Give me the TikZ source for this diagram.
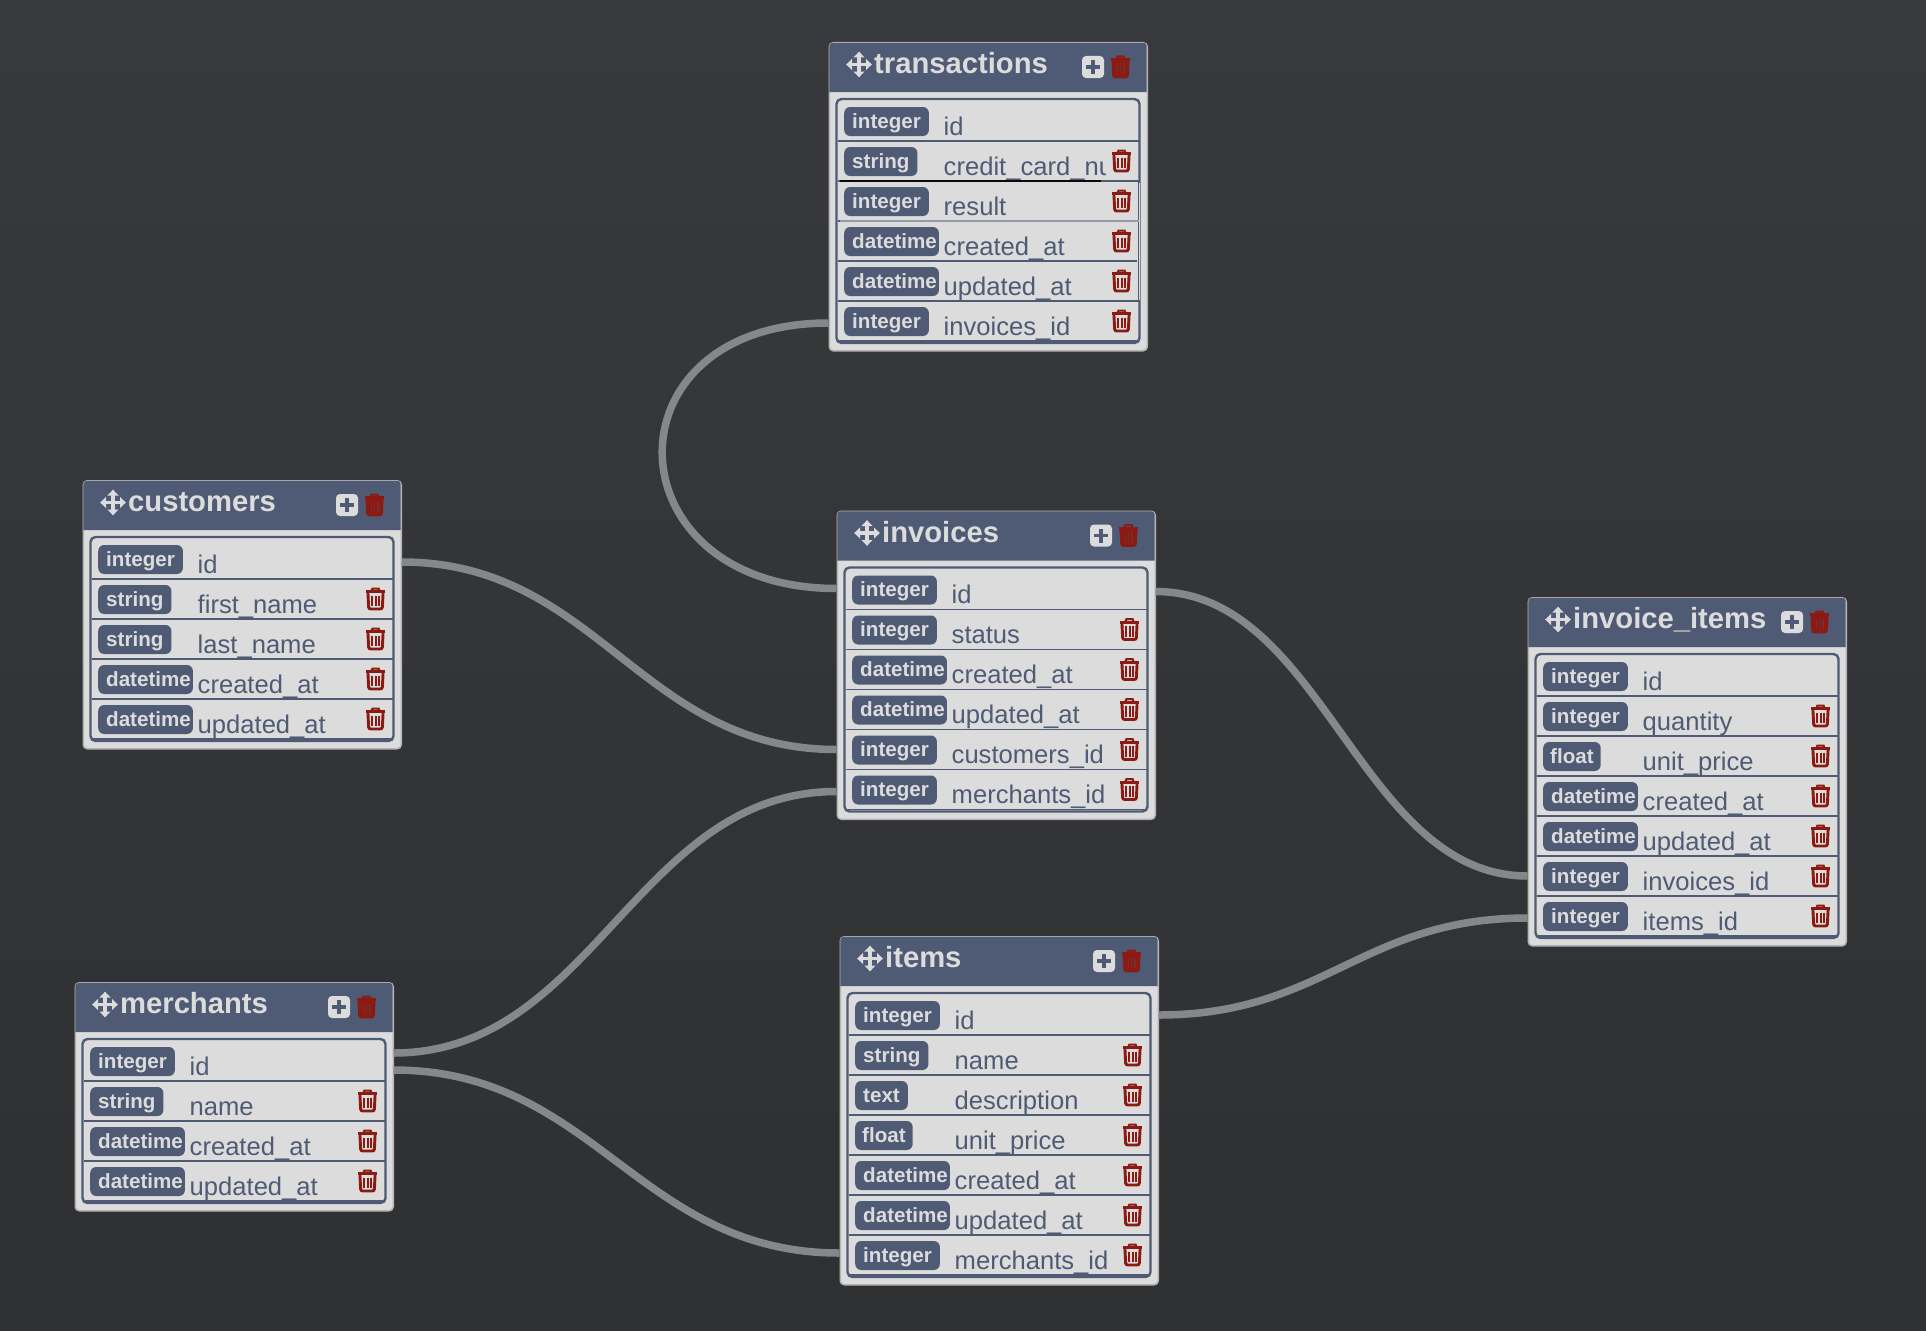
\documentclass[tikz,border=0pt]{standalone}
\usepackage{fontspec}
\setmainfont{Liberation Sans}

\definecolor{bgtop}{HTML}{38393C}
\definecolor{bgbot}{HTML}{2F3032}
\definecolor{slate}{HTML}{4F5B75}
\definecolor{paper}{HTML}{DCDCDC}
\definecolor{edgegray}{HTML}{B4B4B4}
\definecolor{wiregray}{HTML}{85888A}
\definecolor{trashred}{HTML}{8A1A12}

\tikzset{
  tablebox/.style={draw=edgegray,fill=paper,line width=1.5pt,rounded corners=4pt,anchor=north west,inner sep=0pt,minimum width=318},
  rowbox/.style={inner sep=0pt,outer sep=0pt,minimum width=319,minimum height=40},
  rowline/.style={draw=slate,line width=1.6pt},
  innerbox/.style={draw=slate,line width=2.4pt,rounded corners=5pt},
  titletext/.style={text=paper,anchor=base west,inner sep=0pt,font=\bfseries\fontsize{29.2}{32}\selectfont},
  fieldtext/.style={text=slate,anchor=base west,inner sep=0pt,font=\fontsize{25.6}{30}\selectfont},
  typepill/.style={fill=slate,text=paper,rounded corners=6pt,anchor=west,inner xsep=8pt,inner ysep=0pt,minimum height=29,text height=13,text depth=0,font=\bfseries\fontsize{20.6}{24}\selectfont},
  pill-integer/.style={},
  pill-string/.style={},
  pill-text/.style={},
  pill-float/.style={inner xsep=7pt},
  pill-datetime/.style={execute at end node={\kern-6pt}},
  wire/.style={draw=wiregray,line width=7.5pt},
  pics/trashicon/.style={code={
    \draw[trashred,line width=2.2pt] (-4,-8) -- (-3,-10.4) -- (3,-10.4) -- (4,-8);
    \draw[trashred,line width=2.8pt] (-9.8,-7.4) -- (9.8,-7.4);
    \draw[trashred,line width=2.9pt,rounded corners=2pt] (-7.6,-7) -- (-6.8,10) -- (6.8,10) -- (7.6,-7);
    \foreach \bx in {-3.3,0,3.3} \draw[trashred,line width=2pt] (\bx,-3.5) -- (\bx,7);
  }},
  pics/headtrash/.style={code={
    \pic {trashicon};
    \fill[trashred] (-7.6,-7) -- (-6.8,10) -- (6.8,10) -- (7.6,-7) -- cycle;
    \foreach \bx in {-3.3,0,3.3} \draw[trashred!72!slate,line width=1.4pt] (\bx,-3.5) -- (\bx,7);
  }},
  pics/plusicon/.style={code={
    \fill[paper,rounded corners=4pt] (-11,-11) rectangle (11,11);
    \draw[slate,line width=3.8pt] (-7,0) -- (7,0) (0,-7) -- (0,7);
  }},
  pics/moveicon/.style={code={
    \draw[paper,line width=3.2pt] (-9,0) -- (9,0) (0,-9) -- (0,9);
    \fill[paper] (12.8,0) -- (7,-5.6) -- (7,5.6) -- cycle (-12.8,0) -- (-7,-5.6) -- (-7,5.6) -- cycle
      (0,12.8) -- (-5.6,7) -- (5.6,7) -- cycle (0,-12.8) -- (-5.6,-7) -- (5.6,-7) -- cycle;
  }},
}

% name, x, y, title, number of rows, rows as type/field
\newcommand{\dbtable}[6]{
  \begin{scope}[shift={(#2,#3)}]
    \node[tablebox,minimum height={68+40*#5}] (#1) at (0,0) {};
    \fill[slate] (.8,50) [rounded corners=3.5pt] -- (.8,.8) -- (318.2,.8) [sharp corners] -- (318.2,50) -- cycle;
    \pic at (30.5,22.5) {moveicon};
    \node[titletext] (#1-title) at (45.5,31.5) {#4};
    \pic at (264.5,25) {plusicon};
    \pic at (292,25) {headtrash};
    \draw[innerbox] (8,57) rectangle (311,{61+40*#5});
    \foreach \t/\f [count=\i] in {#6} {
      \pgfmathsetmacro{\rowy}{79+40*(\i-1)}
      \node[rowbox] (#1-\i) at (159.5,\rowy) {};
      \draw[rowline] (9,\rowy+20) -- (310,\rowy+20);
      \node[typepill,pill-\t] (#1-\i-type) at (15.5,\rowy+.5) {\t};
      \begin{scope}
        \clip (115,\rowy-20) rectangle (276.5,\rowy+20);
        \node[fieldtext] (#1-\i-field) at (115,\rowy+14) {\f};
      \end{scope}
      \ifnum\i>1 \pic at (293,\rowy) {trashicon}; \fi
    }
  \end{scope}
}

\begin{document}
\begin{tikzpicture}[x=1pt,y=-1pt]
\useasboundingbox (0,0) rectangle (1926,1330);
\fill[top color=bgtop,bottom color=bgbot] (0,0) rectangle (1926,1330);

%The tables
\dbtable{transactions}{828.5}{42}{transactions}{6}{integer/id,string/credit\_card\_nu,integer/result,datetime/created\_at,datetime/updated\_at,integer/invoices\_id}
\dbtable{customers}{82.5}{480}{customers}{5}{integer/id,string/first\_name,string/last\_name,datetime/created\_at,datetime/updated\_at}
\dbtable{invoices}{836.5}{510.5}{invoices}{6}{integer/id,integer/status,datetime/created\_at,datetime/updated\_at,integer/customers\_id,integer/merchants\_id}
\dbtable{invoiceitems}{1527.5}{597}{invoice\_items}{7}{integer/id,integer/quantity,float/unit\_price,datetime/created\_at,datetime/updated\_at,integer/invoices\_id,integer/items\_id}
\dbtable{items}{839.5}{936}{items}{7}{integer/id,string/name,text/description,float/unit\_price,datetime/created\_at,datetime/updated\_at,integer/merchants\_id}
\dbtable{merchants}{74.5}{982}{merchants}{4}{integer/id,string/name,datetime/created\_at,datetime/updated\_at}

%The rows of transactions that were left out of line
\fill[paper] (1137,183) rectangle (1140,300);
\draw[slate,line width=.8pt] (1138.6,182) -- (1138.6,300);
\draw[black!80!bgbot,line width=1.6pt] (840,181) -- (1101,181);
\draw[slate!50!paper,line width=1.4pt] (840,221) -- (1139,221);

%The links between tables
\draw[wire] ([yshift=-2pt]transactions-6.west) .. controls +(-227,0) and +(-227,0) .. ([yshift=1pt]invoices-1.west);
\draw[wire] ([yshift=-3pt]customers-1.east) .. controls +(196,0) and +(-196,0) .. (invoices-5.west);
\draw[wire] ([yshift=8pt]merchants-1.east) .. controls +(200,0) and +(-200,0) .. ([yshift=-2pt]invoices-6.west);
\draw[wire] ([yshift=-9pt]merchants-1.east) .. controls +(201,0) and +(-201,0) .. ([yshift=2pt]items-7.west);
\draw[wire] ([yshift=-2pt]invoices-1.east) .. controls +(168,0) and +(-168,0) .. (invoiceitems-6.west);
\draw[wire] (items-1.east) .. controls +(166,0) and +(-166,0) .. ([yshift=-2pt]invoiceitems-7.west);

\end{tikzpicture}
\end{document}
